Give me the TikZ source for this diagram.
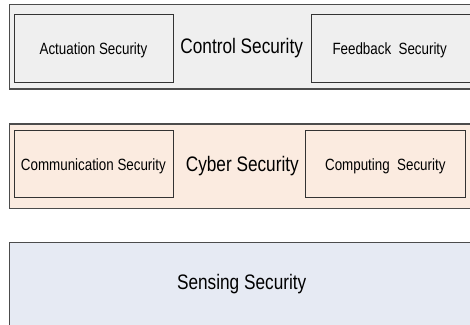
\documentclass[tikz,border=0pt]{standalone}
\usepackage{fontspec}
\setmainfont{Liberation Sans}[FakeStretch=0.82]
\begin{document}
\begin{tikzpicture}[x=1pt,y=-1pt,
  layer/.style={draw=black!70,line width=1.3pt,rectangle,anchor=north west,inner sep=0pt},
  part/.style={draw=black!80,line width=1.1pt,rectangle,anchor=north west,inner sep=0pt},
  big/.style={font=\fontsize{21}{24}\selectfont,anchor=base,inner sep=0pt},
  small/.style={font=\fontsize{16.3}{19}\selectfont,anchor=base,inner sep=0pt}]
\definecolor{ctrlfill}{HTML}{EFEFEF}
\definecolor{cyberfill}{HTML}{FBEBE0}
\definecolor{sensefill}{HTML}{E6EAF3}
\useasboundingbox (0,0) rectangle (470,324);
\clip (0,0) rectangle (470,324);

% control layer
\node[layer,fill=ctrlfill,minimum width=480pt,minimum height=84.8pt] (ctrl) at (9,3.5) {};
\node[part,fill=ctrlfill,minimum width=159.3pt,minimum height=67.7pt] (act) at (14,14) {};
\node[part,fill=ctrlfill,minimum width=170pt,minimum height=67.7pt] (fb) at (310.7,14) {};
\node[small] (actt) at (93.5,54.5) {Actuation Security};
\node[big] (ctrlt) at (241.7,53) {Control Security};
\node[small] (fbt) at (389.7,54.5) {Feedback\ \ Security};

% cyber layer
\node[layer,fill=cyberfill,minimum width=480pt,minimum height=84.7pt] (cyber) at (9,123.3) {};
\node[part,fill=cyberfill,minimum width=159.3pt,minimum height=67.2pt] (comm) at (14,130) {};
\node[part,fill=cyberfill,minimum width=160pt,minimum height=67.2pt] (comp) at (305,130) {};
\node[small] (commt) at (93.4,170.5) {Communication Security};
\node[big] (cybert) at (242.3,171.5) {Cyber Security};
\node[small] (compt) at (385.3,170.5) {Computing\ \ Security};

% sensing layer
\node[layer,fill=sensefill,minimum width=480pt,minimum height=100pt] (sense) at (9,241.7) {};
\node[big] (senset) at (241.7,289) {Sensing Security};
\end{tikzpicture}
\end{document}
